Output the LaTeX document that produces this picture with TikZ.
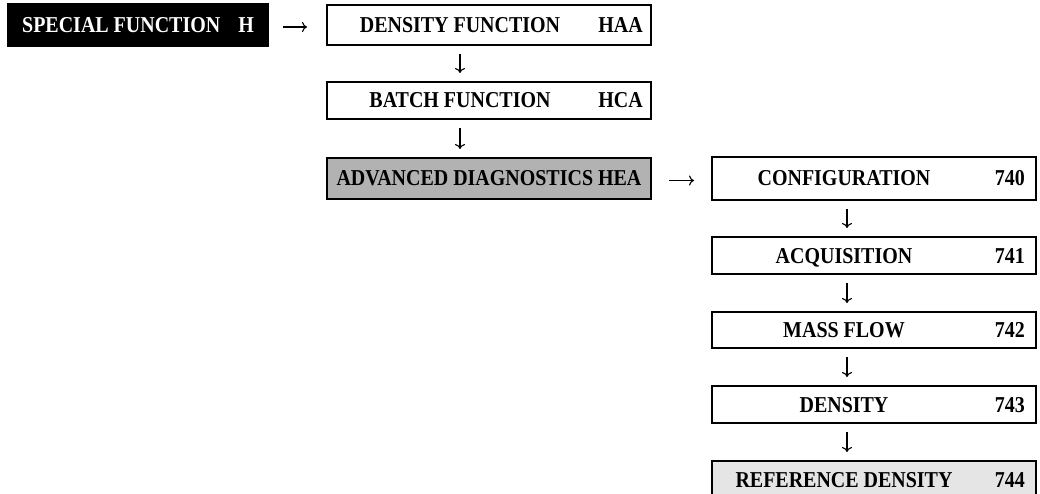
\documentclass[tikz,border=0pt]{standalone}
\usepackage{fontspec}
\setmainfont{Liberation Serif}[FakeStretch=0.88]
\usepackage{tikz}
\usetikzlibrary{arrows.meta,positioning}

\tikzset{
  menu/.style={draw,line width=1.8pt,outer sep=0pt,inner sep=0pt,minimum width=324pt},
  lbl/.style={font=\bfseries\fontsize{22.7}{23}\selectfont,text height=15pt,text depth=0pt,inner sep=0pt},
  code/.style={lbl,anchor=east},
  flow/.style={->,line width=1.1pt,shorten <=9pt,shorten >=9pt}
}

\begin{document}
\begin{tikzpicture}[x=1pt,y=-1pt,>={To[length=5pt,width=10pt]}]
\useasboundingbox (0,0) rectangle (1040,494);

% top menu and the H group
\node[menu,lbl,fill=black,text=white,minimum width=260pt,minimum height=42pt,anchor=north west] (spec) at (8,4) {SPECIAL FUNCTION\hspace{18pt}H};

\node[menu,minimum height=40pt,right=59pt of spec] (haa) {};
\node[lbl] (haaname) at ([xshift=-29pt]haa.center) {DENSITY FUNCTION};
\node[code] (haacode) at ([xshift=-8pt]haa.east) {HAA};

\node[menu,minimum height=37pt,below=37pt of haa] (hca) {};
\node[lbl] (hcaname) at ([xshift=-29pt]hca.center) {BATCH FUNCTION};
\node[code] (hcacode) at ([xshift=-8pt]hca.east) {HCA};

\node[menu,lbl,fill=black!30,minimum height=41pt,below=39pt of hca] (hea) {ADVANCED DIAGNOSTICS HEA};

% advanced diagnostics group
\node[menu,minimum height=43pt,right=61pt of hea] (c740) {};
\node[lbl] (c740name) at ([xshift=-30pt]c740.center) {CONFIGURATION};
\node[code] (c740code) at ([xshift=-11pt]c740.east) {740};

\node[menu,minimum height=37pt,below=37pt of c740] (c741) {};
\node[lbl] (c741name) at ([xshift=-30pt]c741.center) {ACQUISITION};
\node[code] (c741code) at ([xshift=-11pt]c741.east) {741};

\node[menu,minimum height=36pt,below=38pt of c741] (c742) {};
\node[lbl] (c742name) at ([xshift=-30pt]c742.center) {MASS FLOW};
\node[code] (c742code) at ([xshift=-11pt]c742.east) {742};

\node[menu,minimum height=37pt,below=38pt of c742] (c743) {};
\node[lbl] (c743name) at ([xshift=-30pt]c743.center) {DENSITY};
\node[code] (c743code) at ([xshift=-11pt]c743.east) {743};

\node[menu,fill=black!10,minimum height=37pt,below=38pt of c743] (c744) {};
\node[lbl] (c744name) at ([xshift=-30pt]c744.center) {REFERENCE DENSITY};
\node[code] (c744code) at ([xshift=-11pt]c744.east) {744};

% arrows
\draw[flow,shorten <=15pt,shorten >=20pt] ([yshift=-2pt]spec.east) -- ([yshift=-2pt]haa.west);
\draw[flow,shorten <=18pt,shorten >=18pt] ([yshift=-2pt]hea.east) -- ([yshift=-2pt]c740.west);
\draw[flow] ([xshift=-29pt]haa.south) -- ([xshift=-29pt]hca.north);
\draw[flow] ([xshift=-29pt]hca.south) -- ([xshift=-29pt]hea.north);
\draw[flow] ([xshift=-27pt]c740.south) -- ([xshift=-27pt]c741.north);
\draw[flow] ([xshift=-27pt]c741.south) -- ([xshift=-27pt]c742.north);
\draw[flow] ([xshift=-27pt]c742.south) -- ([xshift=-27pt]c743.north);
\draw[flow] ([xshift=-27pt]c743.south) -- ([xshift=-27pt]c744.north);
\end{tikzpicture}
\end{document}
